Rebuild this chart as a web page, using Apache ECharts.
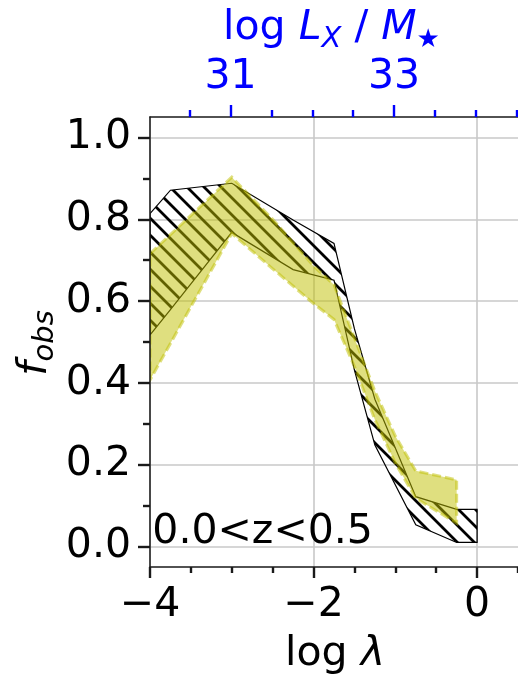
<!DOCTYPE html>
<html><head><meta charset="utf-8">
<script src="https://cdn.jsdelivr.net/npm/echarts@6/dist/echarts.min.js"></script>
<style>html,body{margin:0;padding:0;background:#fff}#c{width:518px;height:677px}</style>
</head><body><div id="c"></div>
<script>
// ---- data ----
const modelX     = [-4, -3.75, -3, -2.25, -1.75, -1.5, -1.25, -0.75, -0.25, 0];
const modelUpper = [0.814, 0.871, 0.888, 0.798, 0.741, 0.532, 0.36, 0.122, 0.091, 0.091];
const modelLower = [0.517, 0.579, 0.768, 0.677, 0.651, 0.431, 0.248, 0.053, 0.010, 0.010];
const obsX     = [-4, -3, -2.5, -2, -1.75, -1.5, -1.25, -1, -0.75, -0.25];
const obsUpper = [0.716, 0.903, 0.80, 0.686, 0.64, 0.51, 0.38, 0.27, 0.185, 0.163];
const obsLower = [0.407, 0.765, 0.679, 0.594, 0.555, 0.44, 0.31, 0.204, 0.118, 0.057];
const xMajorTicks = [-4, -2, 0];
const xMinorTicks = [-3.5, -3, -2.5, -1.5, -1, -0.5, 0.5];
const yMajorTicks = [0, 0.2, 0.4, 0.6, 0.8, 1.0];
const yMinorTicks = [0.1, 0.3, 0.5, 0.7, 0.9];
const topMajorTicks = [31, 33];
const topMinorTicks = [30.5, 31.5, 32, 32.5, 33.5, 34, 34.5];
const annotation = '0.0<z<0.5';

// ---- helpers ----
const FONT = '"DejaVu Sans"';
const FS = 41, SUB = 29, MID = 0.346;
const mctx = document.createElement('canvas').getContext('2d');
function fstr(size, it) { return (it ? 'italic ' : '') + size + 'px ' + FONT; }
function mathRun(parts, color) {
  let x = 0; const els = [];
  for (const p of parts) {
    const size = p.size || FS;
    mctx.font = fstr(size, p.it);
    const w = mctx.measureText(p.t).width;
    els.push({ type: 'text', x: x, y: (p.dy || 0) - MID * size,
      style: { text: p.t, font: fstr(size, p.it), fill: color, align: 'left', verticalAlign: 'middle' } });
    x += w;
  }
  return { els, width: x };
}
function hatchPattern(s, lw) {
  const c = document.createElement('canvas'); c.width = s; c.height = s;
  const g = c.getContext('2d'); g.strokeStyle = '#000'; g.lineWidth = lw;
  g.beginPath();
  for (const k of [-1, 0, 1]) { g.moveTo(-2, -2 + k * s); g.lineTo(s + 2, s + 2 + k * s); }
  g.stroke();
  return c;
}
const hatch = hatchPattern(17, 2.8);
function band(api, xs, up, lo) {
  const pts = [];
  for (let i = 0; i < xs.length; i++) pts.push(api.coord([xs[i], up[i]]));
  for (let i = xs.length - 1; i >= 0; i--) pts.push(api.coord([xs[i], lo[i]]));
  return pts;
}
const fmtX = v => v < 0 ? '\u2212' + Math.abs(v) : String(v);

const spine = { color: '#1a1a1a', width: 1.5 };
const tickStyle = { color: '#1a1a1a', width: 2.4 };
const blue = '#0000ff';
const labelBase = { fontFamily: FONT, fontSize: FS, color: '#000' };
const noLine = { show: false, onZero: false };
const spineLine = { show: true, onZero: false, lineStyle: spine };

// titles
const xt = mathRun([{ t: 'log ' }, { t: '\u03bb', it: true }], '#000');
const tt = mathRun([{ t: 'log ' }, { t: 'L', it: true }, { t: 'X', it: true, size: SUB, dy: 7 },
  { t: ' / ' }, { t: 'M', it: true }, { t: '\u2605', size: 26, dy: 7 }], blue);
const yt = mathRun([{ t: 'f', it: true }, { t: 'obs', it: true, size: SUB, dy: 6 }], '#000');

const chart = echarts.init(document.getElementById('c'), null, { renderer: 'canvas', width: 518, height: 677 });
chart.setOption({
  animation: false,
  backgroundColor: '#fff',
  grid: { left: 150, top: 117, width: 369.4, height: 450 },
  xAxis: [
    { type: 'value', position: 'bottom', min: -4, max: 0.5,
      axisLine: noLine,
      axisTick: { customValues: xMajorTicks, length: 11, lineStyle: tickStyle },
      axisLabel: Object.assign({ customValues: xMajorTicks, margin: 18, formatter: fmtX }, labelBase),
      splitLine: { show: true, lineStyle: { color: '#c8c8c8', width: 1.6 } } },
    { type: 'value', position: 'bottom', min: -4, max: 0.5, z: 5,
      axisLine: spineLine,
      axisTick: { customValues: xMinorTicks, length: 6, lineStyle: tickStyle },
      axisLabel: { show: false }, splitLine: { show: false } },
    { type: 'value', position: 'top', min: 30.015, max: 34.515, z: 5,
      axisLine: spineLine,
      axisTick: { customValues: topMajorTicks, length: 12, lineStyle: { color: blue, width: 2.4 } },
      axisLabel: Object.assign({}, labelBase, { customValues: topMajorTicks, margin: 19, color: blue }),
      splitLine: { show: false } },
    { type: 'value', position: 'top', min: 30.015, max: 34.515, z: 5,
      axisLine: noLine,
      axisTick: { customValues: topMinorTicks, length: 7, lineStyle: { color: blue, width: 2.4 } },
      axisLabel: { show: false }, splitLine: { show: false } }
  ],
  yAxis: [
    { type: 'value', position: 'left', min: -0.05, max: 1.05,
      axisLine: noLine,
      axisTick: { customValues: yMajorTicks, length: 12, lineStyle: tickStyle },
      axisLabel: Object.assign({ customValues: yMajorTicks, margin: 19, formatter: v => v.toFixed(1) }, labelBase),
      splitLine: { show: true, lineStyle: { color: '#c8c8c8', width: 1.6 } } },
    { type: 'value', position: 'left', min: -0.05, max: 1.05, z: 5,
      axisLine: spineLine,
      axisTick: { customValues: yMinorTicks, length: 7, lineStyle: tickStyle },
      axisLabel: { show: false }, splitLine: { show: false } }
  ],
  series: [
    { type: 'custom', name: 'model', xAxisIndex: 0, yAxisIndex: 0, clip: true, z: 2,
      data: modelX.map((x, i) => [x, modelUpper[i], modelLower[i]]),
      encode: { x: 0, y: [1, 2] },
      renderItem: (params, api) => params.dataIndex !== 0 ? null : {
        type: 'polygon', shape: { points: band(api, modelX, modelUpper, modelLower) },
        style: { fill: { image: hatch, repeat: 'repeat' }, stroke: '#000', lineWidth: 1.2 } } },
    { type: 'custom', name: 'obs', xAxisIndex: 0, yAxisIndex: 0, clip: true, z: 3,
      data: obsX.map((x, i) => [x, obsUpper[i], obsLower[i]]),
      encode: { x: 0, y: [1, 2] },
      renderItem: (params, api) => params.dataIndex !== 0 ? null : {
        type: 'polygon', shape: { points: band(api, obsX, obsUpper, obsLower) },
        style: { fill: 'rgba(191,191,0,0.5)', stroke: 'rgba(191,191,0,0.5)', lineWidth: 3, lineDash: [9, 4] } } }
  ],
  graphic: [
    { type: 'text', x: 152.3, y: 547 - MID * FS, z: 10,
      style: { text: annotation, font: fstr(FS, false), fill: '#000', align: 'left', verticalAlign: 'middle' } },
    { type: 'group', x: 335 - xt.width / 2, y: 668.3, children: xt.els },
    { type: 'group', x: 223.1, y: 42.7, children: tt.els },
    { type: 'group', x: 0, y: 343 + yt.width / 2, rotation: Math.PI / 2,
      children: yt.els.map(e => Object.assign({}, e, { y: e.y + 49.5 })) }
  ]
});
</script></body></html>
